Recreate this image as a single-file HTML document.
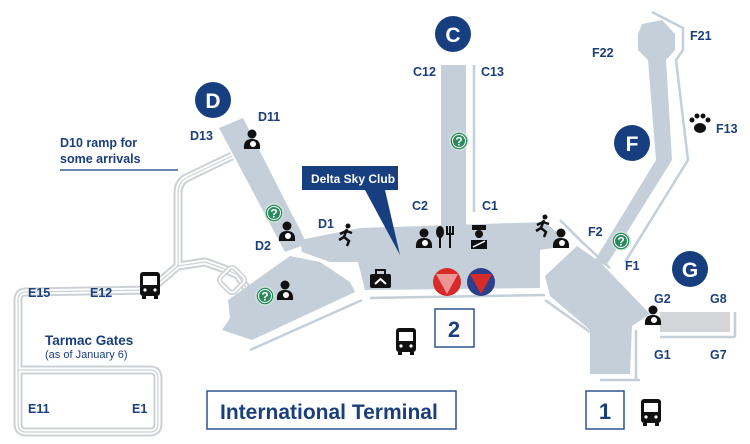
<!DOCTYPE html>
<html><head><meta charset="utf-8"><style>
html,body{margin:0;padding:0;background:#fff}
svg{display:block}
text{font-family:"Liberation Sans",sans-serif;font-weight:bold;fill:#1b3f7c}
</style></head><body>
<svg width="750" height="444" viewBox="0 0 750 444" xmlns="http://www.w3.org/2000/svg">
<defs>
<g id="bus"><rect x="-10" y="-13" width="20" height="24" rx="3" fill="#111"/><rect x="-7" y="-9" width="14" height="9" fill="#fff"/><circle cx="-5" cy="5" r="1.6" fill="#fff"/><circle cx="5" cy="5" r="1.6" fill="#fff"/><rect x="-8" y="11" width="4" height="3" fill="#111"/><rect x="4" y="11" width="4" height="3" fill="#111"/></g>
<g id="help"><circle r="9" fill="#2a8a5c" stroke="#cfe6da" stroke-width="1.5"/><circle r="6.5" fill="none" stroke="#fff" stroke-width="1"/><text y="4.5" text-anchor="middle" style="fill:#fff;font-size:12px">?</text></g>
<g id="nurse"><circle cx="0" cy="-7" r="4.5" fill="#111"/><path d="M-8,8 Q-9,-2 0,-2 Q9,-2 8,8 Z" fill="#111"/><circle cx="1" cy="3" r="3" fill="#fff"/></g>
<g id="run"><circle cx="2" cy="-9" r="2.5" fill="#111"/><path d="M1,-6 L-2,2 L3,6 L1,11 M-2,2 L-7,5 M0,-4 L6,-2 M0,-4 L-6,-1" stroke="#111" stroke-width="2.5" fill="none"/></g>
</defs>

<g fill="none" stroke-linejoin="round">
<path d="M232,156 L186,178 Q178,183 178,193 L178,266 L150,290 L26,292 Q18,292 18,300 L18,424 Q18,432 26,432 L150,432 Q158,432 158,424 L158,378 Q158,370 150,370 L18,370 M178,266 L205,262 L222,268 L238,275 L252,297" stroke="#cdd1d5" stroke-width="9"/>
<path d="M232,156 L186,178 Q178,183 178,193 L178,266 L150,290 L26,292 Q18,292 18,300 L18,424 Q18,432 26,432 L150,432 Q158,432 158,424 L158,378 Q158,370 150,370 L18,370 M178,266 L205,262 L222,268 L238,275 L252,297" stroke="#fff" stroke-width="5"/>
<path d="M232,156 L186,178 Q178,183 178,193 L178,266 L150,290 L26,292 Q18,292 18,300 L18,424 Q18,432 26,432 L150,432 Q158,432 158,424 L158,378 Q158,370 150,370 L18,370 M178,266 L205,262 L222,268 L238,275 L252,297" stroke="#cdd1d5" stroke-width="1.2"/>
<rect x="222" y="270" width="20" height="20" rx="4" transform="rotate(45 232 280)" stroke="#cdd1d5" stroke-width="5"/>
<rect x="222" y="270" width="20" height="20" rx="4" transform="rotate(45 232 280)" stroke="#fff" stroke-width="2"/>
</g>

<g fill="#c5cfd9">
<rect x="441" y="65" width="25" height="165"/>
<polygon points="219,128 243,118 307,244 285,252"/>
<polygon points="300,240 360,228 545,222 560,235 560,247 540,250 540,288 365,290 358,262 330,262 302,252"/>
<polygon points="228,300 290,256 320,262 350,282 355,292 252,340 222,330 230,318"/>
<polygon points="545,276 577,246 600,262 650,314 632,326 630,374 590,374 590,330 550,296"/>
<polygon points="642,24 662,20 675,34 675,50 666,60 672,160 606,266 595,260 656,160 648,60 638,50 638,34"/>
</g>
<rect x="660" y="312" width="70" height="20" fill="#d3d5d8"/>
<g stroke="#c5cfd9" stroke-width="2.5" fill="none">
<line x1="474" y1="65" x2="474" y2="212"/>
<polyline points="652,12 683,28 683,50 676,60 688,160 625,262"/>
<line x1="240" y1="122" x2="300" y2="232"/>
<polyline points="560,220 580,240 610,268"/>
<line x1="660" y1="337" x2="735" y2="337"/><line x1="735" y1="312" x2="735" y2="337"/>
<line x1="600" y1="380" x2="640" y2="380"/><line x1="636" y1="330" x2="636" y2="380"/>
<line x1="250" y1="350" x2="362" y2="300"/>
<polyline points="370,298 545,295"/>
<line x1="545" y1="300" x2="590" y2="332"/>
</g>

<g>
<circle cx="453" cy="34" r="18" fill="#173f7f"/><text x="453" y="42" text-anchor="middle" style="fill:#fff;font-size:21px">C</text>
<circle cx="213" cy="100" r="18" fill="#173f7f"/><text x="213" y="108" text-anchor="middle" style="fill:#fff;font-size:21px">D</text>
<circle cx="632" cy="143" r="18" fill="#173f7f"/><text x="632" y="151" text-anchor="middle" style="fill:#fff;font-size:21px">F</text>
<circle cx="690" cy="269" r="18" fill="#173f7f"/><text x="690" y="277" text-anchor="middle" style="fill:#fff;font-size:21px">G</text>
</g>

<g style="font-size:12.5px">
<text x="413" y="76">C12</text><text x="481" y="76">C13</text>
<text x="412" y="210">C2</text><text x="482" y="210">C1</text>
<text x="258" y="121">D11</text><text x="190" y="140">D13</text>
<text x="318" y="228">D1</text><text x="255" y="250">D2</text>
<text x="592" y="57">F22</text><text x="690" y="40">F21</text><text x="716" y="133">F13</text>
<text x="588" y="236">F2</text><text x="625" y="270">F1</text>
<text x="654" y="303">G2</text><text x="710" y="303">G8</text>
<text x="654" y="359">G1</text><text x="710" y="359">G7</text>
<text x="28" y="297">E15</text><text x="90" y="297">E12</text>
<text x="28" y="413">E11</text><text x="132" y="413">E1</text>
<text x="60" y="147">D10 ramp for</text><text x="60" y="163">some arrivals</text>
<text x="45" y="345" style="font-size:13.5px">Tarmac Gates</text>
<text x="45" y="358" style="font-weight:normal;font-size:11px">(as of January 6)</text>
</g>
<line x1="60" y1="170" x2="178" y2="170" stroke="#3d5f8f" stroke-width="1.5"/>

<polygon points="302,166 398,166 398,190 385,190 400,255 365,190 302,190" fill="#173f7f"/>
<text x="311" y="183" style="fill:#fff;font-size:12px">Delta Sky Club</text>

<rect x="207" y="391" width="249" height="38" fill="#fff" stroke="#2b5590" stroke-width="1.5"/>
<text x="220" y="419" style="font-size:21px">International Terminal</text>
<rect x="435" y="309" width="39" height="38" fill="#fff" stroke="#2b5590" stroke-width="1.5"/>
<text x="454" y="337" text-anchor="middle" style="font-size:22px">2</text>
<rect x="586" y="391" width="38" height="38" fill="#fff" stroke="#2b5590" stroke-width="1.5"/>
<text x="605" y="419" text-anchor="middle" style="font-size:22px">1</text>

<use href="#bus" x="150" y="285"/><use href="#bus" x="406" y="341"/><use href="#bus" x="651" y="412"/>
<use href="#help" x="459" y="141"/><use href="#help" x="274" y="213"/><use href="#help" x="265" y="296"/><use href="#help" x="621" y="241"/>
<use href="#nurse" x="252" y="141"/><use href="#nurse" x="287" y="233"/><use href="#nurse" x="285" y="292"/><use href="#nurse" x="424" y="240"/><use href="#nurse" x="561" y="240"/><use href="#nurse" x="653" y="317"/>
<use href="#run" x="346" y="235"/><use href="#run" x="543" y="226"/>
<ellipse cx="440" cy="232" rx="4" ry="6" fill="#111"/><rect x="439" y="236" width="2" height="12" fill="#111"/>
<path d="M447,226 L447,234 L453,234 L453,226 M450,226 L450,248" stroke="#111" stroke-width="2" fill="none"/>
<rect x="472" y="225" width="14" height="5" fill="#111"/><circle cx="479" cy="234" r="4" fill="#111"/><path d="M471,249 L471,240 L487,240 L487,249 Z" fill="#111"/><line x1="473" y1="247" x2="485" y2="241" stroke="#fff" stroke-width="1.5"/>
<rect x="370" y="274" width="21" height="14" rx="2" fill="#111"/><rect x="376" y="270" width="9" height="5" fill="none" stroke="#111" stroke-width="2"/><path d="M375,284 L380.5,279 L386,284" stroke="#fff" stroke-width="2" fill="none"/>
<circle cx="447" cy="282" r="14" fill="#d92a2a"/><polygon points="436,274 458,274 447,294" fill="#fff" opacity="0.5"/>
<circle cx="481" cy="282" r="14" fill="#2e3f8a"/><polygon points="470,274 492,274 481,294" fill="#d92a2a"/>
<g fill="#111"><ellipse cx="700" cy="128" rx="6" ry="5"/><circle cx="692" cy="120" r="2.5"/><circle cx="697" cy="116" r="2.5"/><circle cx="703" cy="116" r="2.5"/><circle cx="708" cy="120" r="2.5"/></g>
</svg>
</body></html>
